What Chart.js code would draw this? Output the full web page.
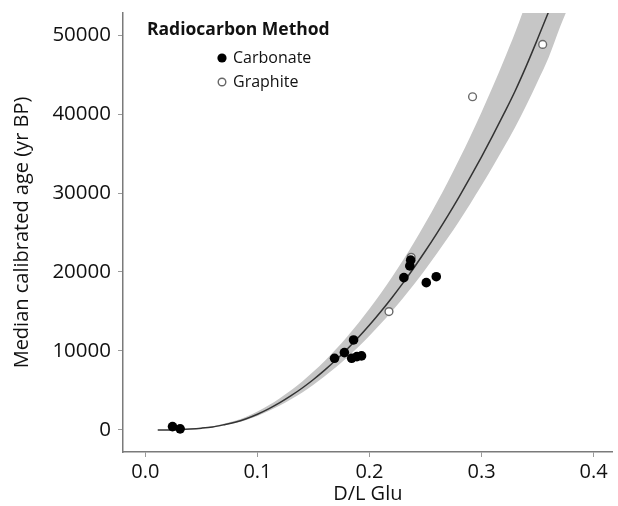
<!DOCTYPE html>
<html>
<head>
<meta charset="utf-8">
<script src="https://cdn.jsdelivr.net/npm/chart.js@4/dist/chart.umd.min.js"></script>
<style>
html,body{margin:0;padding:0;background:#fff;}
#wrap{position:relative;width:618px;height:506px;}
</style>
</head>
<body>
<div id="wrap"><canvas id="c" width="618" height="506"></canvas></div>
<script>
// ---- data ----
const carbonateDL  = [0.0242, 0.0310, 0.1688, 0.1776, 0.1858, 0.1841, 0.1888, 0.1929, 0.2307, 0.2360, 0.2368, 0.2507, 0.2596];
const carbonateAge = [420,    130,    9070,   9790,   11390,  9070,   9280,   9370,   19280,  20760,  21500,  18650,  19400];
const graphiteDL   = [0.2174, 0.2372, 0.2920, 0.3546];
const graphiteAge  = [14980,  21850,  42190,  48820];
const curveDL      = [0.011, 0.02, 0.03, 0.04, 0.05, 0.06, 0.07, 0.08, 0.09, 0.10, 0.11, 0.12, 0.13, 0.14, 0.15, 0.16, 0.17, 0.18, 0.19, 0.20, 0.21, 0.22, 0.23, 0.24, 0.25, 0.26, 0.27, 0.28, 0.29, 0.30, 0.31, 0.32, 0.33, 0.34, 0.35, 0.36, 0.37, 0.38];
const curveAge     = [0, 0, 40, 110, 220, 380, 650, 970, 1420, 1985, 2665, 3445, 4325, 5305, 6385, 7565, 8845, 10225, 11705, 13285, 14965, 16745, 18625, 20605, 22685, 24865, 27145, 29525, 32005, 34585, 37265, 40045, 42925, 46100, 49500, 53000, 56600, 60300];
const bandUpper    = [0, 0, 50, 140, 270, 460, 780, 1150, 1680, 2330, 3110, 4000, 5010, 6140, 7380, 8740, 10210, 11800, 13510, 15330, 17270, 19330, 21510, 23810, 26230, 28770, 31440, 34240, 37170, 40240, 43450, 46810, 50320, 54200, 58400, 62700, 67100, 71500];
const bandLower    = [0, 0, 30, 90, 190, 330, 570, 860, 1260, 1770, 2380, 3080, 3870, 4750, 5720, 6790, 7940, 9180, 10510, 11930, 13440, 15040, 16720, 18490, 20350, 22300, 24330, 26440, 28650, 30940, 33320, 35790, 38340, 41130, 44100, 47200, 51000, 54400];
const xTicks = [0.0, 0.1, 0.2, 0.3, 0.4];
const yTicks = [0, 10000, 20000, 30000, 40000, 50000];
const legendTitle = 'Radiocarbon Method';
const seriesNames = ['Carbonate', 'Graphite'];
const xTitle = 'D/L Glu';
const yTitle = 'Median calibrated age (yr BP)';

const pts = (xs, ys) => xs.map((x, i) => ({x: x, y: ys[i]}));
const FONT = "'Open Sans', sans-serif";

const legendPlugin = {
  id: 'innerLegend',
  afterDatasetsDraw(chart) {
    const ctx = chart.ctx;
    ctx.save();
    ctx.fillStyle = '#111';
    ctx.textBaseline = 'middle';
    ctx.textAlign = 'left';
    ctx.font = "bold 17.5px " + FONT;
    ctx.fillText(legendTitle, 147, 30);
    ctx.font = "16px " + FONT;
    ctx.beginPath(); ctx.arc(222, 58, 4.6, 0, Math.PI*2); ctx.fillStyle = '#000'; ctx.fill();
    ctx.fillStyle = '#111'; ctx.fillText(seriesNames[0], 233, 58);
    ctx.beginPath(); ctx.arc(222, 82, 3.8, 0, Math.PI*2); ctx.fillStyle = '#fff'; ctx.fill();
    ctx.lineWidth = 1.4; ctx.strokeStyle = '#666'; ctx.stroke();
    ctx.fillStyle = '#111'; ctx.fillText(seriesNames[1], 233, 82);
    ctx.restore();
  }
};

new Chart(document.getElementById('c'), {
  type: 'scatter',
  data: {
    datasets: [
      { label: seriesNames[0], data: pts(carbonateDL, carbonateAge), backgroundColor: '#000', borderColor: '#000', pointRadius: 4.8, pointBorderWidth: 0, order: 0 },
      { label: seriesNames[1], data: pts(graphiteDL, graphiteAge), backgroundColor: '#fff', borderColor: '#6a6a6a', pointRadius: 3.9, pointBorderWidth: 1.4, order: 1 },
      { label: 'fit', data: pts(curveDL, curveAge), showLine: true, borderColor: '#333', borderWidth: 1.5, pointRadius: 0, cubicInterpolationMode: 'monotone', order: 2 },
      { label: 'upper', data: pts(curveDL, bandUpper), showLine: true, borderWidth: 0, borderColor: 'rgba(0,0,0,0)', pointRadius: 0, backgroundColor: '#c6c6c6', fill: '+1', cubicInterpolationMode: 'monotone', order: 3 },
      { label: 'lower', data: pts(curveDL, bandLower), showLine: true, borderWidth: 0, borderColor: 'rgba(0,0,0,0)', pointRadius: 0, fill: false, cubicInterpolationMode: 'monotone', order: 4 }
    ]
  },
  options: {
    responsive: false,
    animation: false,
    events: [],
    layout: { padding: { top: 13, right: 1, left: 0, bottom: 0 } },
    plugins: { legend: { display: false }, tooltip: { enabled: false }, filler: { propagate: false } },
    scales: {
      x: {
        type: 'linear', min: -0.02, max: 0.417,
        afterBuildTicks: s => { s.ticks = xTicks.map(v => ({value: v})); },
        afterFit: s => { s.height = 54; s.paddingLeft = 0; s.paddingRight = 0; },
        ticks: { callback: v => Number(v).toFixed(1), color: '#111', font: { family: FONT, size: 20 }, padding: 3, maxRotation: 0 },
        grid: { display: true, drawOnChartArea: false, drawTicks: true, tickLength: 5, color: '#9a9a9a', lineWidth: 1 },
        border: { display: true, color: '#7a7a7a', width: 1.5 },
        title: { display: true, text: xTitle, color: '#111', font: { family: FONT, size: 20 }, padding: { top: 0, bottom: 0 } }
      },
      y: {
        type: 'linear', min: -2800, max: 52800,
        afterBuildTicks: s => { s.ticks = yTicks.map(v => ({value: v})); },
        afterFit: s => { s.width = 123; s.paddingTop = 0; s.paddingBottom = 0; },
        ticks: { callback: v => String(v), color: '#111', font: { family: FONT, size: 20.5 }, padding: 7 },
        grid: { display: true, drawOnChartArea: false, drawTicks: true, tickLength: 5, color: '#9a9a9a', lineWidth: 1 },
        border: { display: true, color: '#7a7a7a', width: 1.5 },
        title: { display: true, text: yTitle, color: '#111', font: { family: FONT, size: 20 }, padding: { top: 10, bottom: 0 } }
      }
    }
  },
  plugins: [legendPlugin]
});
</script>
</body>
</html>
